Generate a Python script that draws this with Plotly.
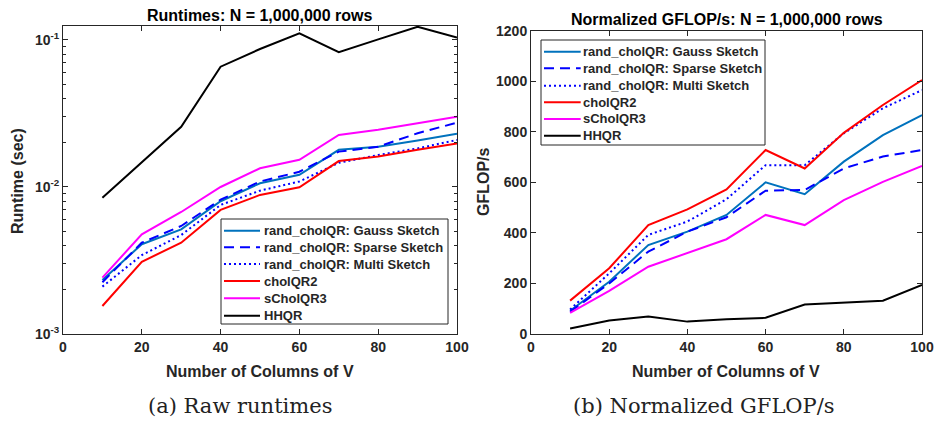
import plotly.graph_objects as go

cols = [10, 20, 30, 40, 50, 60, 70, 80, 90, 100]
names = ["rand_cholQR: Gauss Sketch", "rand_cholQR: Sparse Sketch", "rand_cholQR: Multi Sketch",
         "cholQR2", "sCholQR3", "HHQR"]

# Runtimes (sec)
rt_gauss = [0.00233, 0.00408, 0.00515, 0.0080, 0.0106, 0.0121, 0.0179, 0.0188, 0.0207, 0.0230]
rt_sparse = [0.00225, 0.00418, 0.00543, 0.0082, 0.0109, 0.0127, 0.0174, 0.0188, 0.0232, 0.0274]
rt_multi = [0.00210, 0.00344, 0.00471, 0.00755, 0.00944, 0.0109, 0.0146, 0.0165, 0.0183, 0.0209]
rt_chol2 = [0.00155, 0.00310, 0.00418, 0.00698, 0.00883, 0.00996, 0.0150, 0.0161, 0.0179, 0.0198]
rt_schol3 = [0.00242, 0.00476, 0.00676, 0.0100, 0.0134, 0.0153, 0.0226, 0.0245, 0.0271, 0.0301]
rt_hhqr = [0.00845, 0.0148, 0.0257, 0.0658, 0.0868, 0.111, 0.0825, 0.101, 0.123, 0.104]

# Normalized GFLOP/s
gf_gauss = [92, 207, 352, 405, 471, 600, 553, 682, 787, 866]
gf_sparse = [88, 200, 326, 405, 462, 567, 570, 655, 702, 728]
gf_multi = [97, 240, 392, 445, 533, 668, 668, 794, 893, 965]
gf_chol2 = [132, 260, 431, 493, 572, 728, 655, 796, 906, 1005]
gf_schol3 = [84, 171, 266, 322, 375, 471, 431, 530, 602, 665]
gf_hhqr = [22, 53, 69, 49, 58, 64, 117, 124, 132, 194]

colors = ["#0072BD", "#0000FF", "#0000FF", "#FF0000", "#FF00FF", "#000000"]
dashes = ["solid", "10px,6px", "2px,3px", "solid", "solid", "solid"]

rt_series = [rt_gauss, rt_sparse, rt_multi, rt_chol2, rt_schol3, rt_hhqr]
gf_series = [gf_gauss, gf_sparse, gf_multi, gf_chol2, gf_schol3, gf_hhqr]

fig = go.Figure()
for i in range(6):
    fig.add_trace(go.Scatter(x=cols, y=rt_series[i], mode="lines", name=names[i], showlegend=False,
                             line=dict(color=colors[i], width=2, dash=dashes[i]),
                             xaxis="x", yaxis="y"))
for i in range(6):
    fig.add_trace(go.Scatter(x=cols, y=gf_series[i], mode="lines", name=names[i], showlegend=False,
                             line=dict(color=colors[i], width=2, dash=dashes[i]),
                             xaxis="x2", yaxis="y2"))

W, H = 935, 423
def px(x): return x / W
def py(y): return (H - y) / H

axcol = "#262626"
tickfont = dict(family="Liberation Sans", size=14, color=axcol, weight="bold")
common = dict(showline=True, linecolor=axcol, linewidth=1, mirror="ticks", ticks="inside",
              tickcolor=axcol, ticklen=5, showgrid=False, zeroline=False, tickfont=tickfont,
              automargin=False)

minor_log = [m * 10 ** e for e in (-3, -2) for m in range(2, 10)]

fig.update_layout(
    width=W, height=H, margin=dict(l=0, r=0, t=0, b=0, autoexpand=False),
    paper_bgcolor="white", plot_bgcolor="white", showlegend=False,
    xaxis=dict(domain=[px(63), px(457)], range=[0, 100], tickvals=[0, 20, 40, 60, 80, 100],
               anchor="y", **common),
    yaxis=dict(domain=[py(334), py(26)], type="log", range=[-3, -0.905],
               tickvals=[0.001, 0.01, 0.1],
               ticktext=["10<sup>-3</sup>", "10<sup>-2</sup>", "10<sup>-1</sup>"],
               minor=dict(tickvals=minor_log, ticks="inside", ticklen=3, tickcolor=axcol),
               anchor="x", **common),
    xaxis2=dict(domain=[px(531), px(922)], range=[0, 100], tickvals=[0, 20, 40, 60, 80, 100],
                anchor="y2", **common),
    yaxis2=dict(domain=[py(334), py(30.7)], range=[0, 1200], tickvals=[0, 200, 400, 600, 800, 1000, 1200],
                anchor="x2", **common),
)

bold = dict(family="Liberation Sans", size=16, color=axcol, weight="bold")
titlef = dict(family="Liberation Sans", size=16, color="#000000", weight="bold")
serif = dict(family="DejaVu Serif", size=21, color="#222222")
anns = [
    dict(text="Runtimes: N = 1,000,000 rows", x=px(260), y=py(15), font=titlef),
    dict(text="Normalized GFLOP/s: N = 1,000,000 rows", x=px(727), y=py(20), font=titlef),
    dict(text="Number of Columns of V", x=px(260), y=py(371), font=bold),
    dict(text="Number of Columns of V", x=px(726), y=py(371), font=bold),
    dict(text="Runtime (sec)", x=px(18), y=py(181), font=bold, textangle=-90),
    dict(text="GFLOP/s", x=px(484), y=py(182), font=bold, textangle=-90),
    dict(text="(a) Raw runtimes", x=px(240), y=py(406), font=serif),
    dict(text="(b) Normalized GFLOP/s", x=px(704), y=py(406), font=serif),
]
for a in anns:
    fig.add_annotation(xref="paper", yref="paper", showarrow=False, xanchor="center", yanchor="middle", **a)

# Legends (drawn as layout decorations in paper space)
legfont = dict(family="Liberation Sans", size=13, color=axcol, weight="bold")
def add_legend(box, rows, x0, x1, xt):
    fig.add_shape(type="rect", xref="paper", yref="paper", x0=px(box[0]), x1=px(box[1]),
                  y0=py(box[3]), y1=py(box[2]), line=dict(color="#262626", width=1),
                  fillcolor="white", layer="above")
    for i, yr in enumerate(rows):
        fig.add_shape(type="line", xref="paper", yref="paper", x0=px(x0), x1=px(x1),
                      y0=py(yr), y1=py(yr), line=dict(color=colors[i], width=2, dash=dashes[i]),
                      layer="above")
        fig.add_annotation(xref="paper", yref="paper", x=px(xt), y=py(yr), text=names[i],
                           showarrow=False, xanchor="left", yanchor="middle", font=legfont)

add_legend((221, 448, 219, 324), [230.7, 247.3, 264, 281, 298.3, 315.7], 224, 260, 262)
add_legend((541, 765, 40, 145), [51.7, 68.3, 85.7, 102.3, 119, 135.7], 544, 580.7, 581)

fig.write_html("out.html", config={"displayModeBar": False},
               post_script="document.body.style.margin='0px';document.body.style.padding='0px';")
